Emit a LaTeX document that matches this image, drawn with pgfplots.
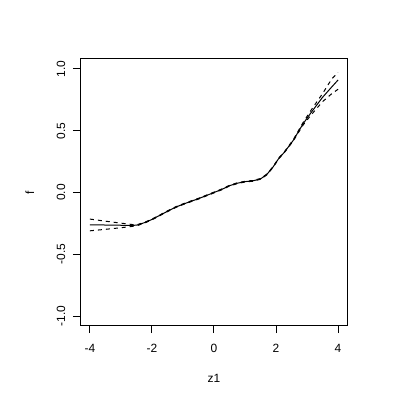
\documentclass[border=0pt]{standalone}
\usepackage{fontspec}
\setmainfont{Liberation Sans}
\usepackage{pgfplots}
\pgfplotsset{compat=1.18}

\pgfplotstableread{
x f lo hi
-4.00 -0.262 -0.310 -0.215
-3.50 -0.263 -0.298 -0.232
-3.00 -0.265 -0.285 -0.248
-2.60 -0.266 -0.273 -0.260
-2.45 -0.262 -0.266 -0.258
-2.20 -0.240 -0.243 -0.237
-2.00 -0.218 -0.221 -0.215
-1.75 -0.185 -0.188 -0.182
-1.50 -0.152 -0.155 -0.149
-1.25 -0.120 -0.123 -0.117
-1.00 -0.095 -0.098 -0.092
-0.75 -0.072 -0.075 -0.069
-0.50 -0.050 -0.053 -0.047
-0.25 -0.025 -0.028 -0.022
 0.00  0.000 -0.003  0.003
 0.25  0.025  0.022  0.028
 0.50  0.055  0.052  0.058
 0.75  0.075  0.072  0.078
 1.00  0.088  0.085  0.091
 1.25  0.094  0.091  0.097
 1.50  0.110  0.107  0.113
 1.70  0.145  0.142  0.148
 1.90  0.205  0.202  0.208
 2.10  0.280  0.277  0.283
 2.25  0.320  0.317  0.323
 2.55  0.420  0.415  0.425
 2.87  0.555  0.545  0.565
 3.14  0.650  0.630  0.670
 3.50  0.770  0.735  0.800
 3.80  0.855  0.800  0.920
 4.00  0.910  0.835  0.970
}\curve

\begin{document}
\fontsize{12}{14}\selectfont
\begin{tikzpicture}
\path[use as bounding box] (0,0) rectangle (400bp,400bp);
\begin{axis}[
  at={(80bp,74bp)}, anchor=south west,
  scale only axis, width=268bp, height=267bp,
  xmin=-4.32, xmax=4.32, ymin=-1.08, ymax=1.08,
  axis line style={line width=1bp},
  tick style={line width=1bp, black},
  tick align=outside, tick pos=left,
  major tick length=7bp,
  xtick={-4,-2,0,2,4}, xticklabels={-4,-2,0,2,4},
  ytick={-1,-0.5,0,0.5,1}, yticklabels={-1.0,-0.5,0.0,0.5,1.0},
  xticklabel style={anchor=center, yshift=-15bp},
  yticklabel style={anchor=center, rotate=90, yshift=12bp},
  xlabel={z1}, ylabel={f},
  xlabel style={at={(axis description cs:0.5,-0.195)}, anchor=center},
  ylabel style={at={(axis description cs:-0.187,0.5)}, anchor=center},
  every axis label/.append style={font=\fontsize{12}{14}\selectfont},
  ticklabel style={font=\fontsize{12}{14}\selectfont},
]
\addplot[black, line width=1bp] table[x=x, y=f] {\curve};
\addplot[black, line width=1bp, dash pattern=on 4bp off 4bp] table[x=x, y=lo] {\curve};
\addplot[black, line width=1bp, dash pattern=on 4bp off 4bp] table[x=x, y=hi] {\curve};
\end{axis}
\end{tikzpicture}
\end{document}
